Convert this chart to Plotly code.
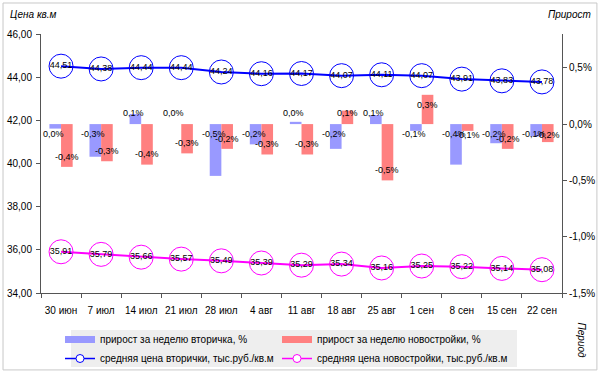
import plotly.graph_objects as go

categories = ["30 июн", "7 июл", "14 июл", "21 июл", "28 июл", "4 авг", "11 авг",
              "18 авг", "25 авг", "1 сен", "8 сен", "15 сен", "22 сен"]
growth_secondary = [-0.04, -0.29, 0.09, 0.0, -0.46, -0.18, 0.02, -0.22, 0.08, -0.06, -0.36, -0.17, -0.11]
growth_new = [-0.38, -0.33, -0.36, -0.26, -0.22, -0.27, -0.27, 0.12, -0.50, 0.26, -0.06, -0.22, -0.16]
price_secondary = [44.51, 44.38, 44.44, 44.44, 44.24, 44.16, 44.17, 44.07, 44.11, 44.07, 43.91, 43.83, 43.78]
price_new = [35.91, 35.79, 35.66, 35.57, 35.49, 35.39, 35.29, 35.34, 35.16, 35.25, 35.22, 35.14, 35.08]
left_ticks = [34, 36, 38, 40, 42, 44, 46]
right_tickvals = [-1.5, -1.0, -0.5, 0.0, 0.5]
right_ticktext = ["-1,5%", "-1,0%", "-0,5%", "0,0%", "0,5%"]

names = ["прирост за неделю вторичка, %", "прирост за неделю новостройки, %",
         "средняя цена вторички, тыс.руб./кв.м", "средняя цена новостройки, тыс.руб./кв.м"]

BLUE_BAR = "#9999ff"
RED_BAR = "#ff8080"
BLUE = "#0000ff"
PINK = "#ff00ff"
FONT = "Liberation Sans, Arial, sans-serif"
AXIS = "#555555"
BARGAP = 0.42


def pct(v):
    r = round(v, 1)
    if r == 0:
        return "0,0%"
    return ("-" if r < 0 else "") + f"{abs(r):.1f}".replace(".", ",") + "%"


fig = go.Figure()

fig.add_trace(go.Bar(x=categories, y=growth_secondary, yaxis="y2", marker_color=BLUE_BAR,
                     marker_line_width=0, showlegend=False, name=names[0]))
fig.add_trace(go.Bar(x=categories, y=growth_new, yaxis="y2", marker_color=RED_BAR,
                     marker_line_width=0, showlegend=False, name=names[1]))

for vals, col, nm in [(price_secondary, BLUE, names[2]), (price_new, PINK, names[3])]:
    fig.add_trace(go.Scatter(
        x=categories, y=vals, mode="lines+markers+text",
        line=dict(color=col, width=2),
        marker=dict(symbol="circle", size=24, color="rgba(0,0,0,0)", line=dict(color=col, width=1)),
        texttemplate="%{y:.2f}", textposition="middle center",
        textfont=dict(size=9, color="black", family=FONT),
        cliponaxis=False, showlegend=False, name=nm))

# legend-only entries (two columns = two legends)
fig.add_trace(go.Scatter(x=[None], y=[None], mode="lines", line=dict(color=BLUE_BAR, width=7),
                         name=names[0], legend="legend", legendgroup="a"))
fig.add_trace(go.Scatter(x=[None], y=[None], mode="lines+markers", line=dict(color=BLUE, width=1.5),
                         marker=dict(symbol="circle", size=8, color="white", line=dict(color=BLUE, width=1)),
                         name=names[2], legend="legend", legendgroup="b"))
fig.add_trace(go.Scatter(x=[None], y=[None], mode="lines", line=dict(color=RED_BAR, width=7),
                         name=names[1], legend="legend2", legendgroup="c"))
fig.add_trace(go.Scatter(x=[None], y=[None], mode="lines+markers", line=dict(color=PINK, width=1.5),
                         marker=dict(symbol="circle", size=8, color="white", line=dict(color=PINK, width=1)),
                         name=names[3], legend="legend2", legendgroup="d"))

half = (1 - BARGAP) / 4
annotations = []
for i, v in enumerate(growth_secondary):
    ly = 0.1 if v >= 0 else -0.09
    annotations.append(dict(x=i - half, y=ly, xref="x", yref="y2", text=pct(v), showarrow=False,
                            xshift=-2, font=dict(size=9, color="black", family=FONT)))
for i, v in enumerate(growth_new):
    mag = max(abs(v) - 0.09, 0.1)
    ly = mag if v >= 0 else -mag
    annotations.append(dict(x=i + half, y=ly, xref="x", yref="y2", text=pct(v), showarrow=False,
                            font=dict(size=9, color="black", family=FONT)))

annotations += [
    dict(x=-0.0633, y=1.0734, xref="paper", yref="paper", xanchor="left", yanchor="middle",
         text="<i>Цена кв.м</i>", showarrow=False, font=dict(size=10, color="black", family=FONT)),
    dict(x=1.0595, y=1.0734, xref="paper", yref="paper", xanchor="right", yanchor="middle",
         text="<i>Прирост</i>", showarrow=False, font=dict(size=10, color="black", family=FONT)),
    dict(x=1.0393, y=-0.1815, xref="paper", yref="paper", xanchor="center", yanchor="middle",
         text="<i>Период</i>", textangle=90, showarrow=False, font=dict(size=10, color="black", family=FONT)),
]

leg_common = dict(orientation="v", xanchor="left", yanchor="top", bgcolor="rgba(0,0,0,0)",
                  font=dict(size=10, color="black", family=FONT), traceorder="normal",
                  tracegroupgap=1, borderwidth=0)

fig.update_layout(
    width=600, height=373,
    margin=dict(l=41, r=38, t=34, b=80, autoexpand=False),
    paper_bgcolor="white", plot_bgcolor="white",
    separators=", ",
    barmode="group", bargap=BARGAP, bargroupgap=0,
    font=dict(family=FONT, size=10, color="black"),
    showlegend=True,
    legend=dict(x=0.0365, y=-0.1236, **leg_common),
    legend2=dict(x=0.453, y=-0.1236, **leg_common),
    xaxis=dict(type="category", range=[-0.5, 12.5], showline=True, linecolor=AXIS, linewidth=1,
               ticks="outside", tickson="boundaries", ticklen=4, tickcolor=AXIS, tickangle=0,
               showgrid=False, ticklabelstandoff=8, tickfont=dict(size=10), automargin=False),
    yaxis=dict(range=[34, 46], tickvals=left_ticks, tickformat=".2f", showline=True, linecolor=AXIS,
               ticks="outside", ticklen=4, tickcolor=AXIS, showgrid=False, zeroline=False,
               tickfont=dict(size=10), ticklabelstandoff=2, automargin=False),
    yaxis2=dict(range=[-1.5, 0.8], overlaying="y", side="right", tickvals=right_tickvals,
                ticktext=right_ticktext, showline=True, linecolor=AXIS, ticks="outside", ticklen=4,
                tickcolor=AXIS, showgrid=False, zeroline=False, tickfont=dict(size=10), automargin=False),
    annotations=annotations,
    shapes=[
        dict(type="rect", xref="paper", yref="paper", x0=-0.0729, x1=1.067, y0=-0.297, y1=1.1197,
             line=dict(color="#c8c8c8", width=1), layer="below"),
        dict(type="rect", xref="paper", yref="paper", x0=(71 - 41) / 521, x1=(517 - 41) / 521,
             y0=(293 - 367) / 259, y1=(293 - 330) / 259,
             line=dict(width=0), fillcolor="#eeeeee", layer="below"),
    ],
)

fig.write_html("out.html", config={"displayModeBar": False},
               post_script="document.body.style.margin='0';document.body.style.overflow='hidden';")
